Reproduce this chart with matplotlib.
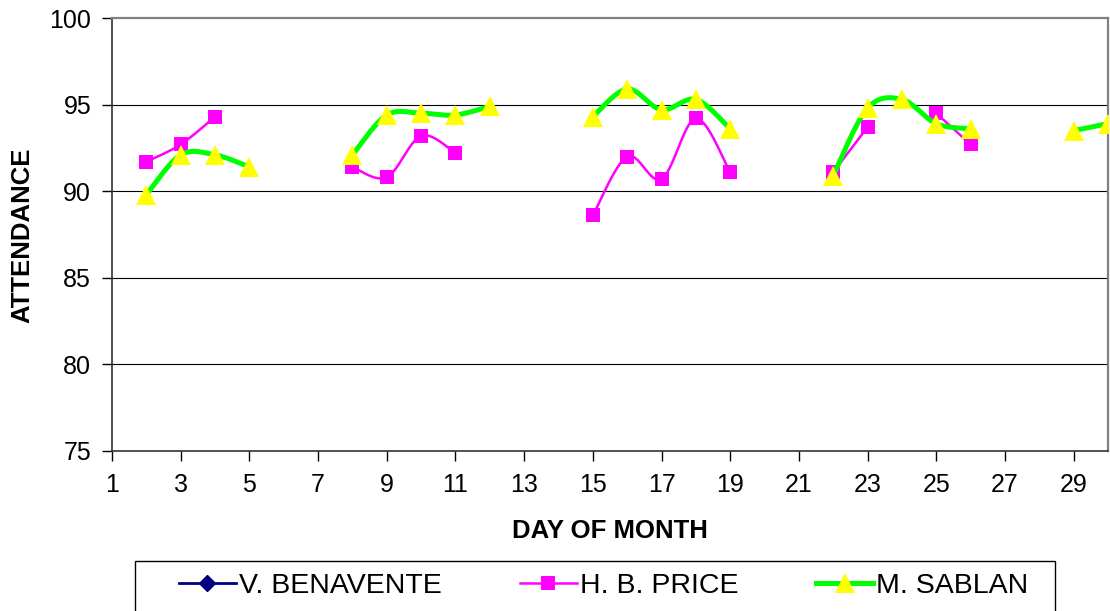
import matplotlib
matplotlib.use("Agg")
import matplotlib.pyplot as plt
import numpy as np
from matplotlib.lines import Line2D
from matplotlib.patches import Rectangle

nan=np.nan
days=list(range(1,31))
benavente=[nan]*30
price=[nan,91.7,92.7,94.3,nan,nan,nan,91.4,90.8,93.2,92.2,nan,nan,nan,88.6,92.0,90.7,94.2,91.1,nan,nan,91.1,93.7,nan,94.5,92.7,nan,nan,nan,nan]
sablan=[nan,89.8,92.1,92.1,91.4,nan,nan,92.1,94.4,94.5,94.4,94.9,nan,nan,94.3,95.9,94.7,95.3,93.6,nan,nan,90.9,94.8,95.3,93.9,93.6,nan,nan,93.5,93.9]
names=["V. BENAVENTE","H. B. PRICE","M. SABLAN"]
yticks=[75,80,85,90,95,100]
xticks=list(range(1,30,2))

plt.rcParams["font.family"]=["Liberation Sans","DejaVu Sans"]


def smooth(x,y,n=24):
    # excel-style smoothed line: catmull-rom bezier through each run of values
    x=np.asarray(x,float);y=np.asarray(y,float);ok=np.isfinite(y);outx,outy=[],[];i=0
    while i<len(y):
        if not ok[i]:i+=1;continue
        j=i
        while j<len(y) and ok[j]:j+=1
        P=np.column_stack([x[i:j],y[i:j]]);t=np.linspace(0,1,n)[:,None]
        for k in range(len(P)-1):
            p0=P[max(k-1,0)];p1=P[k];p2=P[k+1];p3=P[min(k+2,len(P)-1)]
            c1=p1+(p2-p0)/6;c2=p2-(p3-p1)/6
            seg=(1-t)**3*p1+3*(1-t)**2*t*c1+3*(1-t)*t**2*c2+t**3*p2
            outx+=list(seg[:,0]);outy+=list(seg[:,1])
        outx.append(nan);outy.append(nan);i=j
    return outx,outy


fig=plt.figure(figsize=(11.1,6.11),dpi=100)
ax=fig.add_axes([112/1110,1-451/611,996/1110,433/611])
ax.set_xlim(1,30);ax.set_ylim(75,100)
for v in yticks[1:-1]:ax.axhline(v,color="black",lw=0.8,zorder=1)

sx,sy=smooth(days,price);ax.plot(sx,sy,color="#FF00FF",lw=1.8,zorder=2)
ax.plot(days,price,ls="none",marker="s",ms=10.5,color="#FF00FF",mec="#FF00FF",mew=0,zorder=3)
sx,sy=smooth(days,sablan);ax.plot(sx,sy,color="#00FF00",lw=3.6,zorder=4,solid_capstyle="butt")
ax.plot(days,sablan,ls="none",marker="^",ms=15,color="#FFFF00",mec="#FFFF00",mew=0,zorder=5)
ax.plot(days,benavente,color="#000080",marker="D",zorder=6)

ax.set_yticks(yticks);ax.set_xticks(xticks)
ax.tick_params(axis="both",direction="out",length=7,width=1,labelsize=18,colors="black")
ax.tick_params(axis="y",pad=8);ax.tick_params(axis="x",pad=9)
for s in ["top","right"]:ax.spines[s].set_color("#808080");ax.spines[s].set_linewidth(1.6)
for s in ["left","bottom"]:ax.spines[s].set_color("#333333");ax.spines[s].set_linewidth(1.2)

fig.text(610/1110,1-531/611,"DAY OF MONTH",ha="center",va="center",fontsize=18.5,fontweight="bold")
fig.text(22/1110,1-235/611,"ATTENDANCE",ha="center",va="center",rotation=90,fontsize=18.5,fontweight="bold")

fig.patches.append(Rectangle((135/1110,-0.02),920/1110,0.02+1-561/611,transform=fig.transFigure,fill=False,ec="black",lw=1))
handles=[Line2D([],[],color="#000080",lw=2,marker="D",ms=8),
         Line2D([],[],color="#FF00FF",lw=1.8,marker="s",ms=10.5,mew=0),
         Line2D([],[],color="#00FF00",lw=3.6,marker="^",ms=15,mfc="#FFFF00",mec="#FFFF00",mew=0)]
fig.legend(handles,names,loc="center left",bbox_to_anchor=(179/1110,1-586/611),ncol=3,frameon=False,fontsize=20.5,
           handlelength=2.0,handletextpad=0.1,columnspacing=2.75,borderpad=0,borderaxespad=0)

fig.savefig("out.png",dpi=100)
